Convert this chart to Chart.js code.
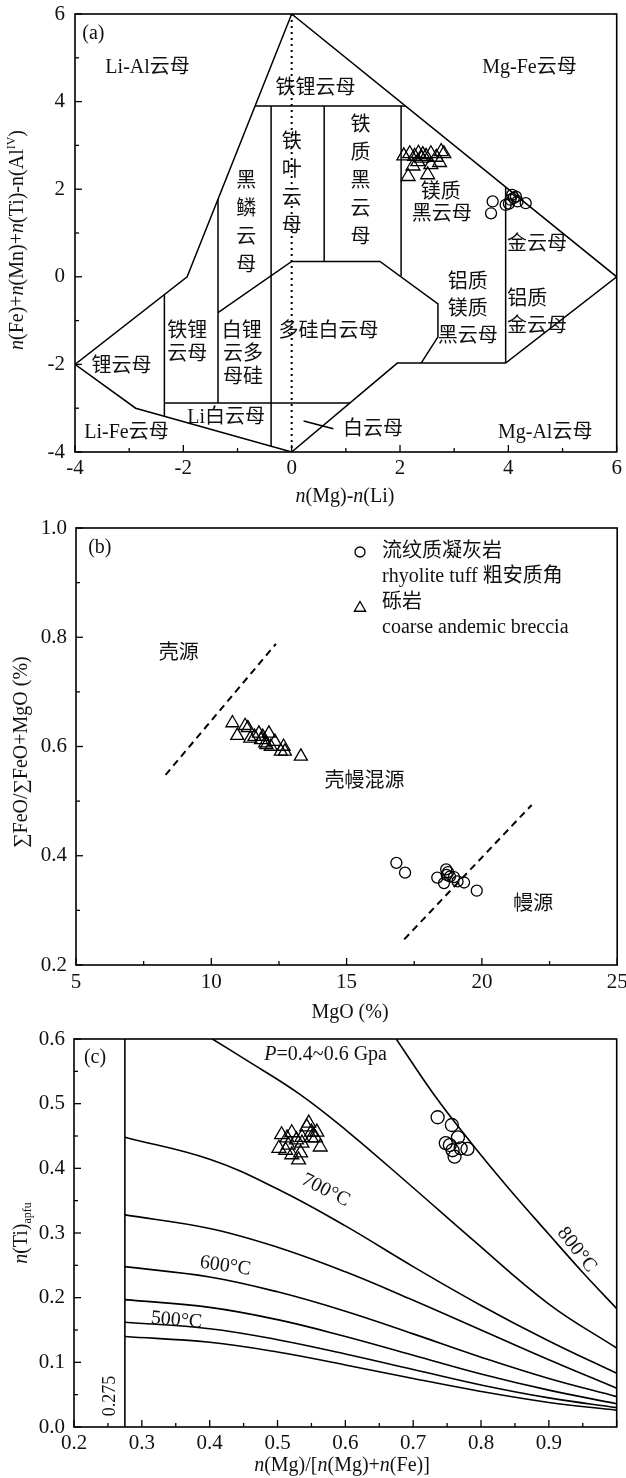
<!DOCTYPE html>
<html>
<head>
<meta charset="utf-8">
<script src="https://cdn.jsdelivr.net/npm/chart.js@4.4.0/dist/chart.umd.min.js"></script>
<style>
body { margin: 0; background: #fff; }
#wrap { position: relative; width: 626px; height: 1478px; }
canvas { position: absolute; left: 0; }
</style>
</head>
<body>
<div id="wrap">
  <canvas id="chartA" width="626" height="512" style="top:0"></canvas>
  <canvas id="chartB" width="626" height="514" style="top:512px"></canvas>
  <canvas id="chartC" width="626" height="452" style="top:1026px"></canvas>
</div>
<script>
const FONT = "'Liberation Serif','Noto Sans CJK SC',serif";

// ---- (a) mica classification diagram
const aOutline = [[0,6],[-1.93,0],[-4,-2],[-2.88,-3.0],[0,-4],[1.95,-1.97],[3.95,-1.97],[6,0],[0,6]];
const aInner = [
  [[-0.675,3.9],[2.1,3.9]],
  [[2.02,3.9],[2.02,0.02]],
  [[0.6,3.9],[0.6,0.35]],
  [[-0.38,3.9],[-0.38,-3.87]],
  [[-1.36,1.77],[-1.36,-2.88]],
  [[-2.35,-0.41],[-2.35,-3.18]],
  [[-2.35,-2.88],[1.076,-2.88]],
  [[-1.36,-0.82],[0,0.35],[1.63,0.35],[2.7,-0.62],[2.7,-1.37],[2.39,-1.97]],
  [[3.95,2.05],[3.95,-1.97]],
  [[0.22,-3.29],[0.77,-3.47]]
];
const aDotted = [[0,6],[0,-4]];
const aTriX = [2.07,2.18,2.27,2.34,2.42,2.48,2.57,2.67,2.76,2.81,2.73,2.57,2.24,2.15,2.51,2.40,2.33];
const aTriY = [2.76,2.81,2.75,2.82,2.79,2.75,2.81,2.73,2.86,2.81,2.61,2.56,2.53,2.29,2.33,2.71,2.63];
const aCirX = [3.71,3.68,3.95,4.04,4.10,4.17,4.32,4.07,4.01,4.14];
const aCirY = [1.72,1.45,1.64,1.76,1.80,1.72,1.68,1.87,1.67,1.83];
const aLabels = [
  ['(a)', -3.66, 5.55],
  ['Li-Al云母', -2.66, 4.77],
  ['Mg-Fe云母', 4.39, 4.77],
  ['铁锂云母', 0.44, 4.3],
  ['镁质', 2.75, 1.92],
  ['黑云母', 2.77, 1.42],
  ['金云母', 4.53, 0.73],
  ['铝质', 3.25, -0.14],
  ['镁质', 3.25, -0.75],
  ['黑云母', 3.25, -1.37],
  ['铝质', 4.35, -0.53],
  ['金云母', 4.53, -1.14],
  ['多硅白云母', 0.68, -1.25],
  ['铁锂', -1.93, -1.26],
  ['云母', -1.93, -1.78],
  ['白锂', -0.92, -1.26],
  ['云多', -0.9, -1.78],
  ['母硅', -0.9, -2.31],
  ['锂云母', -3.14, -2.05],
  ['Li白云母', -1.21, -3.22],
  ['Li-Fe云母', -3.05, -3.56],
  ['白云母', 1.5, -3.49],
  ['Mg-Al云母', 4.68, -3.56]
];
const aVertLabels = [['铁叶云母', 0, 2.1], ['黑鳞云母', -0.84, 1.22], ['铁质黑云母', 1.27, 2.16]];

// ---- (b) source discrimination
const bTriX = [10.78,10.96,11.25,11.35,11.44,11.6,11.76,11.84,11.9,11.99,12.04,12.13,12.2,12.35,12.57,12.67,12.72,13.31];
const bTriY = [0.643,0.620,0.638,0.634,0.615,0.618,0.624,0.612,0.618,0.606,0.603,0.624,0.600,0.609,0.591,0.600,0.591,0.582];
const bCirX = [16.84,17.16,18.35,18.6,18.68,18.7,18.75,18.82,18.97,19.1,19.34,19.81];
const bCirY = [0.387,0.369,0.360,0.350,0.375,0.365,0.370,0.362,0.361,0.353,0.351,0.336];
const bDash1 = [[8.31,0.548],[12.39,0.788]];
const bDash2 = [[17.13,0.247],[21.84,0.493]];
const bLabels = [
  ['(b)', 5.88, 0.963],
  ['壳源', 8.8, 0.77],
  ['壳幔混源', 15.66, 0.536],
  ['幔源', 21.9, 0.31]
];

// ---- (c) Ti-in-biotite thermometer
const cIsoX = [0.275,0.4,0.5,0.6,0.7,0.8,0.9,1.0];
const cIso1 = [0.140,0.131,0.116,0.096,0.075,0.055,0.038,0.026];
const cIso2 = [0.162,0.152,0.135,0.113,0.089,0.065,0.045,0.030];
const cIso3 = [0.197,0.185,0.166,0.140,0.111,0.082,0.057,0.036];
const cIso4 = [0.248,0.232,0.209,0.179,0.144,0.108,0.075,0.047];
const cIso5 = [0.328,0.307,0.278,0.240,0.196,0.150,0.104,0.060];
const cIso6 = [0.448,0.414,0.368,0.311,0.248,0.188,0.133,0.083];
const cIso7X = [0.404,0.45,0.531,0.6,0.7,0.785,0.9,1.0];
const cIso7 = [0.600,0.570,0.516,0.460,0.370,0.292,0.190,0.122];
const cIso8X = [0.675,0.73,0.785,0.84,0.9,0.95,1.0];
const cIso8 = [0.600,0.515,0.440,0.370,0.298,0.239,0.183];
const cLimit = [[0.275,0],[0.275,0.6]];
const cTriX = [0.506,0.514,0.521,0.528,0.536,0.543,0.550,0.556,0.502,0.512,0.521,0.534,0.516,0.546,0.558,0.563,0.536,0.550,0.531];
const cTriY = [0.452,0.447,0.455,0.444,0.448,0.464,0.456,0.447,0.431,0.428,0.421,0.424,0.436,0.470,0.456,0.433,0.439,0.447,0.413];
const cCirX = [0.736,0.757,0.766,0.748,0.758,0.770,0.780,0.761,0.754];
const cCirY = [0.479,0.467,0.448,0.439,0.428,0.431,0.430,0.418,0.436];
const cLabels = [
  ['(c)', 0.231, 0.571, 0],
  ['700°C', 0.571, 0.366, 27],
  ['800°C', 0.941, 0.274, 52],
  ['600°C', 0.423, 0.249, 8],
  ['500°C', 0.351, 0.165, 5],
  ['0.275', 0.253, 0.048, -90, 18]
];

function pts(pairs) { return pairs.map(p => ({ x: p[0], y: p[1] })); }
function xy(xs, ys) { return xs.map((x, i) => ({ x: x, y: ys[i] })); }
function lineSet(data, extra) {
  return Object.assign({ data: data, borderColor: '#000', borderWidth: 1.5, pointRadius: 0,
    fill: false, tension: 0 }, extra || {});
}
function markSet(data, style, r) {
  return { data: data, showLine: false, pointStyle: style, pointRadius: r,
    pointBorderColor: '#000', pointBackgroundColor: 'rgba(0,0,0,0)', pointBorderWidth: 1.3 };
}

function drawRich(ctx, segs, x, y, size, rot) {
  const fontOf = s => (s === 'i' ? 'italic ' : '') + ((s === 'sup' || s === 'sub') ? Math.round(size * 0.62) : size) + 'px ' + FONT;
  ctx.save();
  ctx.translate(x, y);
  ctx.rotate(rot * Math.PI / 180);
  let total = 0;
  segs.forEach(([t, s]) => { ctx.font = fontOf(s); total += ctx.measureText(t).width; });
  let cx = -total / 2;
  ctx.textAlign = 'left';
  ctx.textBaseline = 'middle';
  segs.forEach(([t, s]) => {
    ctx.font = fontOf(s);
    const dy = s === 'sup' ? -size * 0.33 : (s === 'sub' ? size * 0.3 : 0);
    ctx.fillText(t, cx, dy);
    cx += ctx.measureText(t).width;
  });
  ctx.restore();
}

function decorPlugin(spec) {
  return {
    id: 'decor',
    afterDatasetsDraw(chart) {
      const ctx = chart.ctx, a = chart.chartArea;
      const sx = chart.scales.x, sy = chart.scales.y;
      const X = v => sx.getPixelForValue(v), Y = v => sy.getPixelForValue(v);
      ctx.save();
      ctx.strokeStyle = '#000';
      ctx.lineWidth = 1.6;
      ctx.strokeRect(a.left, a.top, a.right - a.left, a.bottom - a.top);
      ctx.lineWidth = 1.3;
      const tickRun = (t, draw) => {
        const [v0, v1, maj, min] = t;
        for (let k = 0; v0 + k * min <= v1 + 1e-9; k++) {
          const off = k * min;
          const major = Math.abs(Math.round(off / maj) * maj - off) < 1e-9;
          draw(v0 + off, major ? 7 : 4);
        }
      };
      tickRun(spec.xTicks, (v, len) => {
        ctx.beginPath(); ctx.moveTo(X(v), a.bottom); ctx.lineTo(X(v), a.bottom - len); ctx.stroke();
      });
      tickRun(spec.yTicks, (v, len) => {
        ctx.beginPath(); ctx.moveTo(a.left, Y(v)); ctx.lineTo(a.left + len, Y(v)); ctx.stroke();
      });
      ctx.fillStyle = '#111';
      ctx.textAlign = 'center';
      ctx.textBaseline = 'middle';
      (spec.labels || []).forEach(([t, x, y, rot, size]) => {
        ctx.save();
        ctx.translate(X(x), Y(y));
        if (rot) ctx.rotate(rot * Math.PI / 180);
        ctx.font = (size || 20) + 'px ' + FONT;
        ctx.fillText(t, 0, 0);
        ctx.restore();
      });
      (spec.vlabels || []).forEach(([t, x, y]) => {
        const chars = Array.from(t), step = 28;
        const top = Y(y) - (chars.length - 1) * step / 2;
        ctx.font = '20px ' + FONT;
        chars.forEach((c, i) => ctx.fillText(c, X(x), top + i * step));
      });
      (spec.rich || []).forEach(r => {
        const px = r.data ? X(r.x) : r.x, py = r.data ? Y(r.y) : r.y;
        drawRich(ctx, r.segs, px, py, r.size || 20, r.rot || 0);
      });
      if (spec.legend) spec.legend(ctx);
      ctx.restore();
    }
  };
}

function makeChart(id, datasets, o) {
  const tickFont = { family: FONT, size: 21 };
  return new Chart(document.getElementById(id), {
    type: 'line',
    data: { datasets: datasets },
    options: {
      responsive: false,
      animation: false,
      events: [],
      layout: { padding: { left: 0, top: o.padTop, right: o.padRight, bottom: 0 } },
      plugins: { legend: { display: false }, tooltip: { enabled: false } },
      scales: {
        x: {
          type: 'linear', min: o.x[0], max: o.x[1],
          grid: { display: false, drawTicks: false }, border: { display: false },
          ticks: { stepSize: o.x[2], padding: o.xPad, color: '#111', font: tickFont,
            maxRotation: 0, autoSkip: false, callback: o.xFmt },
          afterFit: s => { s.height = o.xH; s.paddingLeft = 0; s.paddingRight = 0; }
        },
        y: {
          type: 'linear', min: o.y[0], max: o.y[1],
          grid: { display: false, drawTicks: false }, border: { display: false },
          ticks: { stepSize: o.y[2], padding: o.yPad, color: '#111', font: tickFont,
            autoSkip: false, callback: o.yFmt },
          afterFit: s => { s.width = o.yW; s.paddingTop = 0; s.paddingBottom = 0; }
        }
      }
    },
    plugins: [decorPlugin(o.decor)]
  });
}

// (a)
makeChart('chartA', [
  lineSet(pts(aOutline)),
  ...aInner.map(seg => lineSet(pts(seg))),
  lineSet(pts(aDotted), { borderDash: [2, 4], borderWidth: 2 }),
  markSet(xy(aTriX, aTriY), 'triangle', 8),
  markSet(xy(aCirX, aCirY), 'circle', 5.5)
], {
  padTop: 14, padRight: 6, xH: 60, yW: 75, xPad: 4, yPad: 10,
  x: [-4, 6, 2], y: [-4, 6, 2],
  xFmt: v => String(v), yFmt: v => String(v),
  decor: {
    xTicks: [-4, 6, 2, 1], yTicks: [-4, 6, 2, 1],
    labels: aLabels, vlabels: aVertLabels,
    rich: [
      { segs: [['n', 'i'], ['(Mg)-', ''], ['n', 'i'], ['(Li)', '']], x: 345, y: 497 },
      { segs: [['n', 'i'], ['(Fe)+', ''], ['n', 'i'], ['(Mn)+', ''], ['n', 'i'], ['(Ti)-n(Al', ''], ['IV', 'sup'], [')', '']], x: 18, y: 240, rot: -90 }
    ]
  }
});

// (b)
makeChart('chartB', [
  lineSet(pts(bDash1), { borderDash: [7, 5], borderWidth: 2 }),
  lineSet(pts(bDash2), { borderDash: [7, 5], borderWidth: 2 }),
  markSet(xy(bTriX, bTriY), 'triangle', 7.5),
  markSet(xy(bCirX, bCirY), 'circle', 5.5)
], {
  padTop: 16, padRight: 7, xH: 61, yW: 76, xPad: 5, yPad: 9,
  x: [5, 25, 5], y: [0.2, 1.0, 0.2],
  xFmt: v => String(v), yFmt: v => v.toFixed(1),
  decor: {
    xTicks: [5, 25, 5, 2.5], yTicks: [0.2, 1.0, 0.2, 0.1],
    labels: bLabels,
    rich: [
      { segs: [['MgO (%)', '']], x: 350, y: 501 },
      { segs: [['∑FeO/∑FeO+MgO (%)', '']], x: 22, y: 240, rot: -90 }
    ],
    legend: ctx => {
      ctx.strokeStyle = '#000';
      ctx.fillStyle = 'rgba(0,0,0,0)';
      Chart.helpers.drawPoint(ctx, { pointStyle: 'circle', radius: 5, borderWidth: 1.4, rotation: 0 }, 360, 40);
      Chart.helpers.drawPoint(ctx, { pointStyle: 'triangle', radius: 6.5, borderWidth: 1.4, rotation: 0 }, 360, 96);
      ctx.fillStyle = '#111';
      ctx.textAlign = 'left';
      ctx.textBaseline = 'middle';
      ctx.font = '20px ' + FONT;
      ctx.fillText('流纹质凝灰岩', 382, 40);
      ctx.fillText('rhyolite tuff 粗安质角', 382, 65);
      ctx.fillText('砾岩', 382, 91);
      ctx.fillText('coarse andemic breccia', 382, 116);
    }
  }
});

// (c)
const isoOpts = { tension: 0.4, borderWidth: 1.6 };
makeChart('chartC', [
  lineSet(xy(cIsoX, cIso1), isoOpts),
  lineSet(xy(cIsoX, cIso2), isoOpts),
  lineSet(xy(cIsoX, cIso3), isoOpts),
  lineSet(xy(cIsoX, cIso4), isoOpts),
  lineSet(xy(cIsoX, cIso5), isoOpts),
  lineSet(xy(cIsoX, cIso6), isoOpts),
  lineSet(xy(cIso7X, cIso7), isoOpts),
  lineSet(xy(cIso8X, cIso8), isoOpts),
  lineSet(pts(cLimit), { borderWidth: 1.6 }),
  markSet(xy(cTriX, cTriY), 'triangle', 8),
  markSet(xy(cCirX, cCirY), 'circle', 6.5)
], {
  padTop: 13, padRight: 6, xH: 51, yW: 74, xPad: 4, yPad: 9,
  x: [0.2, 1.0, 0.1], y: [0, 0.6, 0.1],
  xFmt: v => (v > 0.95 ? '' : v.toFixed(1)), yFmt: v => v.toFixed(1),
  decor: {
    xTicks: [0.2, 1.0, 0.1, 0.05], yTicks: [0, 0.6, 0.1, 0.05],
    labels: cLabels,
    rich: [
      { segs: [['P', 'i'], ['=0.4~0.6 Gpa', '']], x: 0.571, y: 0.576, data: true },
      { segs: [['n', 'i'], ['(Mg)/[', ''], ['n', 'i'], ['(Mg)+', ''], ['n', 'i'], ['(Fe)]', '']], x: 342, y: 440 },
      { segs: [['n', 'i'], ['(Ti)', ''], ['apfu', 'sub']], x: 22, y: 207, rot: -90 }
    ]
  }
});
</script>
</body>
</html>
